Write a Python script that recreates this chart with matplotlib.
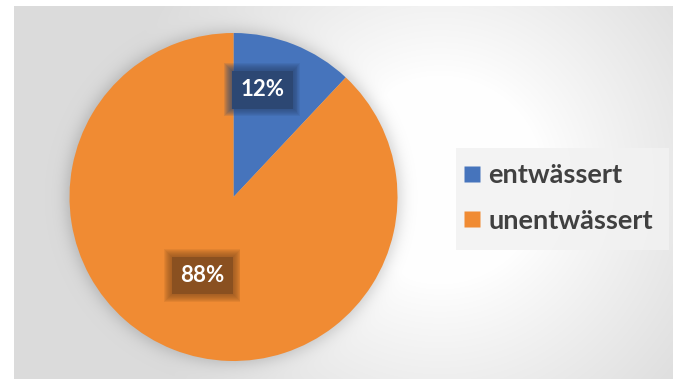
import numpy as np
import matplotlib
matplotlib.use("Agg")
import matplotlib.pyplot as plt
from matplotlib.lines import Line2D
from matplotlib.patches import Rectangle

# Data
categories = ["entwässert", "unentwässert"]
shares = [12, 88]
colors = ["#4674BC", "#F08B33"]
label_box_colors = ["#2C4773", "#8A5020"]

W, H = 681, 379
fig = plt.figure(figsize=(W / 100, H / 100), dpi=100)

# Pie geometry in pixels
cx, cy, R = 233.5, 197.0, 164.0

# ---- background panel: radial gradient + soft shadow around the pie ----
yy, xx = np.mgrid[0:H, 0:W] + 0.5
d = np.hypot(xx - 440, yy - 180)
t = np.clip((d - 100) / 230, 0, 1)
grey = 1.0 - 0.14 * t ** 0.9
dp = np.hypot(xx - cx, yy - cy)
shadow = 0.18 / (1 + np.exp((dp - R - 3) / 4.5))
grey = grey * (1 - shadow)
img = np.ones((H, W, 3))
panel = (xx >= 14) & (xx <= 673) & (yy >= 6)
img[panel] = grey[panel][:, None]

bg = fig.add_axes([0, 0, 1, 1])
bg.imshow(img, extent=(0, W, H, 0), interpolation="bilinear")
bg.set_xlim(0, W)
bg.set_ylim(H, 0)
bg.axis("off")

# legend backdrop panel
bg.add_patch(Rectangle((456, 148), 213, 102, facecolor="#F2F2F2",
                       edgecolor="none", alpha=0.85))

# ---- pie ----
ax = fig.add_axes([(cx - R) / W, (H - cy - R) / H, 2 * R / W, 2 * R / H])
wedges, _ = ax.pie(shares, colors=colors, startangle=90, counterclock=False,
                   radius=1.0, wedgeprops=dict(linewidth=0))
ax.set_xlim(-1, 1)
ax.set_ylim(-1, 1)
ax.set_aspect("equal")
ax.axis("off")

font = ["Lato", "DejaVu Sans"]

def blurred_label(x, y, text, box_color):
    # stacked translucent boxes give the label background a soft edge
    for pad in np.linspace(0.72, 0.42, 8):
        ax.text(x, y, text, color="none", fontsize=16, fontweight="black",
                family=font, ha="center", va="center",
                bbox=dict(boxstyle=f"square,pad={pad:.3f}", fc=box_color,
                          ec="none", alpha=0.13))
    ax.text(x, y, text, color="white", fontsize=16, fontweight="bold",
            family=font, ha="center", va="center",
            bbox=dict(boxstyle="square,pad=0.38", fc=box_color, ec="none"))

# label for the small slice sits nudged toward the top of its wedge
blurred_label(0.175, 0.655, f"{shares[0]}%", label_box_colors[0])

# label for the large slice at its mid-angle
theta = np.deg2rad(90 - 360 * (shares[0] + shares[1] / 2) / sum(shares))
r = 0.515
blurred_label(r * np.cos(theta), r * np.sin(theta), f"{shares[1]}%",
              label_box_colors[1])

# ---- legend ----
handles = [Line2D([], [], marker="s", linestyle="none", markersize=12,
                  markerfacecolor=c, markeredgecolor="none") for c in colors]
leg = fig.legend(handles, categories, loc="center left",
                 bbox_to_anchor=(456 / W, 1 - 198 / H), borderaxespad=0,
                 frameon=False, borderpad=0.2,
                 handlelength=0.8, handletextpad=0.2, labelspacing=0.78,
                 prop=dict(family=font, size=19.5, weight="bold"))
for txt in leg.get_texts():
    txt.set_color("#404040")

fig.savefig("out.png", dpi=100)
